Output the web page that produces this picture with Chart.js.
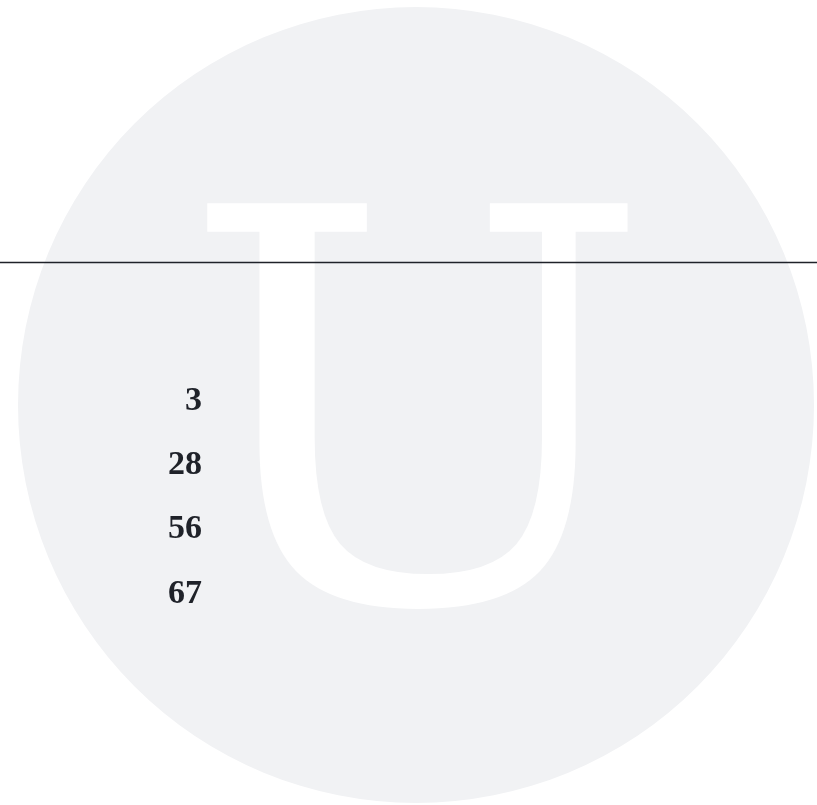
<!DOCTYPE html>
<html>
<head>
<meta charset="utf-8">
<title>U</title>
<script src="https://cdn.jsdelivr.net/npm/chart.js@4.4.1/dist/chart.umd.min.js"></script>
<style>
  html, body { margin: 0; padding: 0; background: #fff; }
  .stage { position: relative; width: 817px; height: 805px; overflow: hidden; }
  .stage canvas { position: absolute; left: 0; top: 0; }
</style>
</head>
<body>
<div class="stage">
  <canvas id="chart-disc" width="817" height="805"></canvas>
  <canvas id="chart-rule" width="817" height="805"></canvas>
  <canvas id="chart-rows" width="817" height="805"></canvas>
</div>
<script>
// disc behind everything: one slice, with the big letter on top
const DISC_LABELS = ['U'];
const DISC_VALUES = [1];
const DISC_COLORS = ['#f1f2f4'];
const BADGE_LETTER = 'U';

// horizontal rule across the whole width
const RULE_X = [0, 1];
const RULE_Y = [1, 1];

// row labels down the left side
const ROW_LABELS = ['3', '28', '56', '67'];

const INK = '#1f2229';

const letterPlugin = {
  id: 'letter',
  afterDatasetsDraw(chart, args, opts) {
    const arc = chart.getDatasetMeta(0).data[0];
    if (!arc) return;
    const { ctx } = chart;
    ctx.save();
    ctx.font = opts.font;
    ctx.fillStyle = opts.color;
    ctx.textAlign = 'left';
    ctx.textBaseline = 'alphabetic';
    const m = ctx.measureText(opts.text);
    // centre the glyph's ink box on the disc, a touch wider than the font
    ctx.translate(arc.x + (opts.dx || 0), arc.y);
    ctx.scale(opts.stretch || 1, 1);
    const x = -(m.actualBoundingBoxRight - m.actualBoundingBoxLeft) / 2;
    const y = (m.actualBoundingBoxAscent - m.actualBoundingBoxDescent) / 2;
    ctx.fillText(opts.text, x, y);
    ctx.restore();
  },
};

const quiet = {
  legend: { display: false },
  tooltip: { enabled: false },
};

new Chart(document.getElementById('chart-disc'), {
  type: 'pie',
  data: {
    labels: DISC_LABELS,
    datasets: [{ data: DISC_VALUES, backgroundColor: DISC_COLORS, borderWidth: 0 }],
  },
  options: {
    responsive: false,
    animation: false,
    events: [],
    layout: { padding: { left: 15, right: 0, top: 7, bottom: 2 } },
    plugins: {
      ...quiet,
      letter: { text: BADGE_LETTER, color: '#ffffff', font: '546px "DejaVu Serif"', stretch: 1.025, dx: 5.5 },
    },
  },
  plugins: [letterPlugin],
});

new Chart(document.getElementById('chart-rule'), {
  type: 'line',
  data: {
    datasets: [{
      data: RULE_X.map((x, i) => ({ x, y: RULE_Y[i] })),
      borderColor: INK,
      borderWidth: 1.4,
      pointRadius: 0,
      fill: false,
      clip: false,
    }],
  },
  options: {
    responsive: false,
    animation: false,
    events: [],
    layout: { padding: { top: 0, bottom: 280, left: 0, right: 0 } },
    scales: {
      x: { type: 'linear', min: 0, max: 1, display: false },
      y: { type: 'linear', min: 0, max: 2, display: false },
    },
    plugins: quiet,
  },
});

new Chart(document.getElementById('chart-rows'), {
  type: 'bar',
  data: { labels: ROW_LABELS, datasets: [] },
  options: {
    indexAxis: 'y',
    responsive: false,
    animation: false,
    events: [],
    layout: { padding: { top: 369, bottom: 179, left: 0, right: 0 } },
    scales: {
      x: { display: false },
      y: {
        type: 'category',
        offset: true,
        grid: { display: false },
        border: { display: false },
        ticks: {
          color: INK,
          padding: 8,
          font: { family: '"Liberation Serif", serif', size: 34, weight: 'bold' },
        },
        afterFit(scale) { scale.width = 218; },
      },
    },
    plugins: quiet,
  },
});
</script>
</body>
</html>
